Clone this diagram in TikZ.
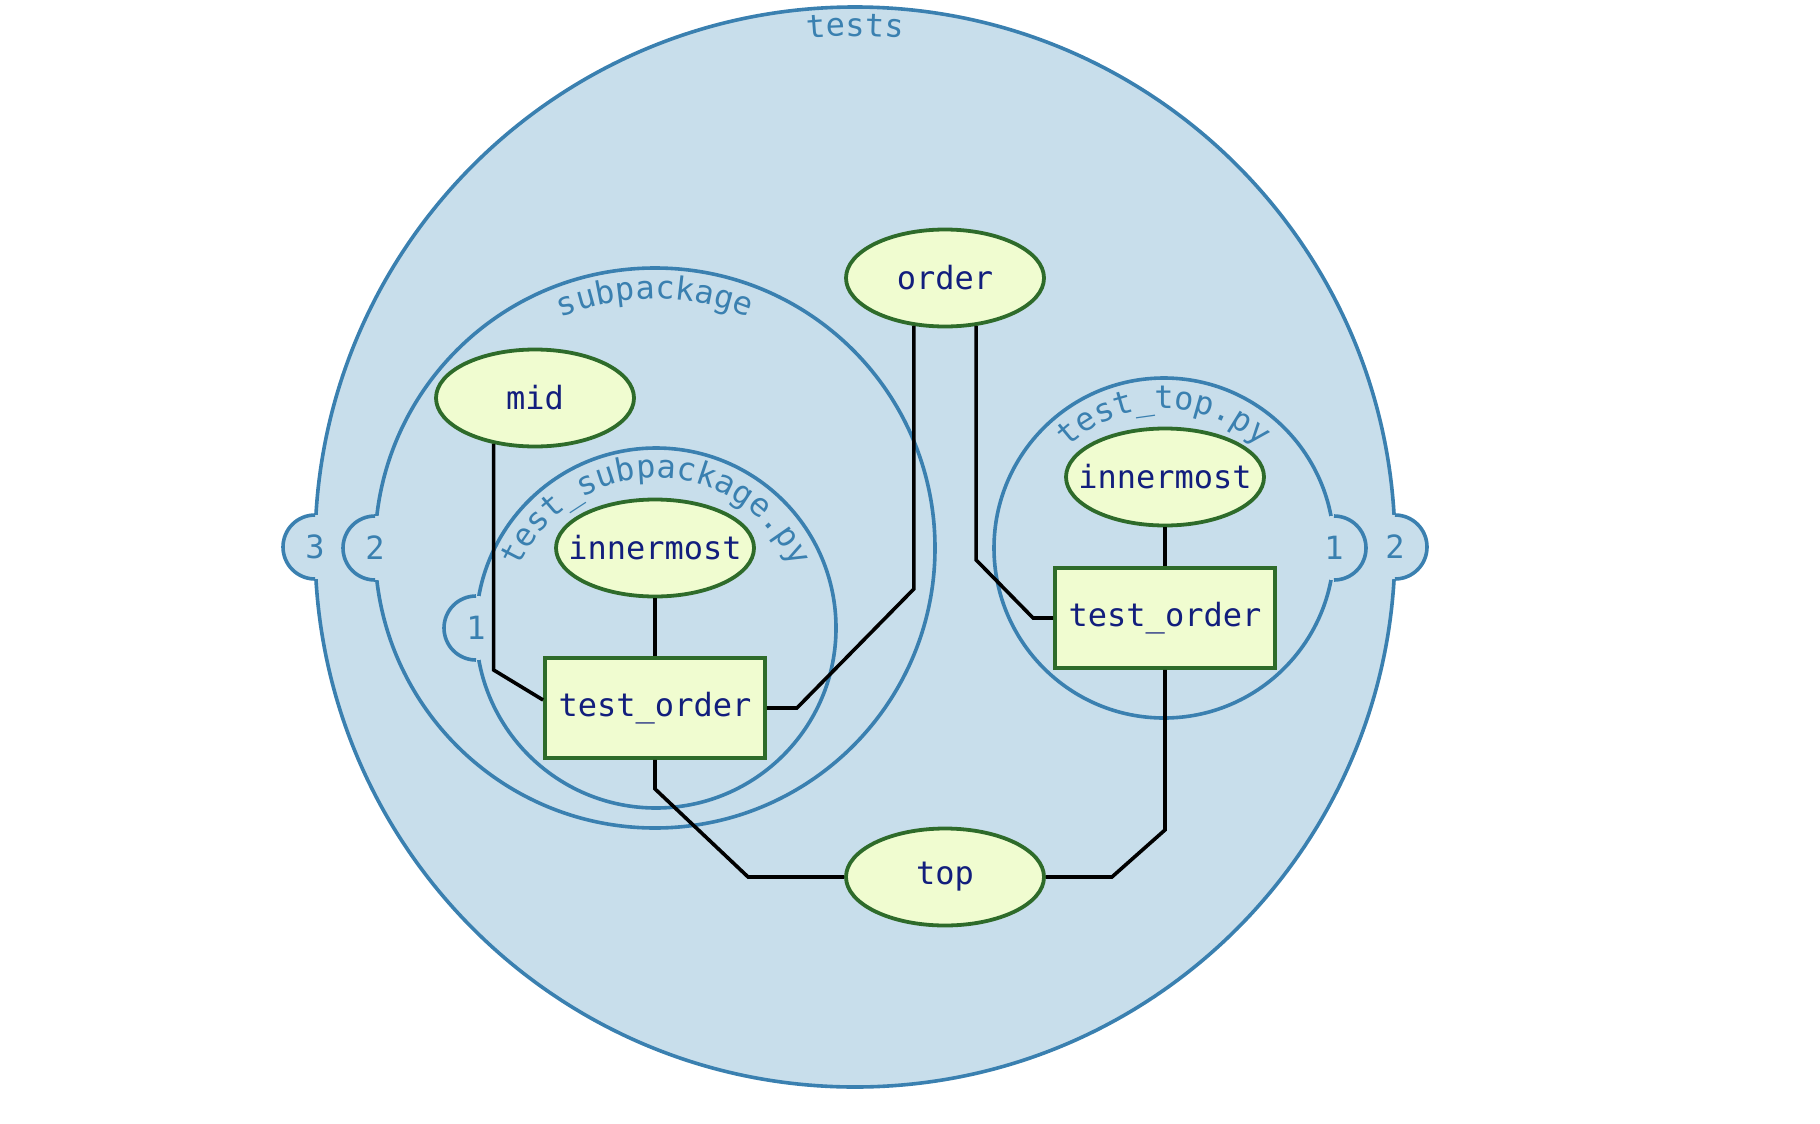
\documentclass[tikz,border=0pt]{standalone}
\usepackage{fontspec}
\setmonofont{DejaVu Sans Mono}
\usetikzlibrary{shapes.geometric,decorations.text}
\definecolor{grpfill}{RGB}{200,222,235}
\definecolor{grpline}{RGB}{58,128,176}
\definecolor{fixfill}{RGB}{240,252,208}
\definecolor{fixline}{RGB}{46,107,42}
\definecolor{fixtext}{RGB}{18,30,125}
\newcommand\grpfont{\ttfamily\fontsize{16}{19}\selectfont}

\begin{document}
\begin{tikzpicture}
		[x=0.5pt,y=0.5pt,
		grp/.style={fill=grpfill,draw=grpline,line width=1.8pt},
		fix/.style={ellipse,draw=fixline,fill=fixfill,line width=1.9pt,text=fixtext,font=\grpfont,minimum width=99pt,minimum height=48.5pt,inner xsep=-9pt,inner ysep=0pt},
		tst/.style={rectangle,draw=fixline,fill=fixfill,line width=1.9pt,text=fixtext,font=\grpfont,minimum width=110pt,minimum height=50pt},
		wire/.style={line width=1.8pt,black},
		tab/.style={text=grpline,font=\grpfont,inner sep=0pt},
		lbl/.style={decorate,decoration={text along path,text align=center,text color=grpline,text={|\grpfont|#1}}}]
		\useasboundingbox (0,0) rectangle (1820,-1124);
		\draw[grp] (855,-547) circle[radius=540];
		\draw[grp] (655,-548) circle[radius=280];
		\draw[grp] (656,-628) circle[radius=180];
		\draw[grp] (1164,-548) circle[radius=170];
		\foreach \x/\y/\a/\n [count=\i] in {315/547/90/3,1395/547/-90/2,375/548/90/2,476/628/90/1,1334/548/-90/1}{
			\fill[grpfill] (\x,-\y) circle[radius=32];
			\draw[grpline,line width=1.8pt] (\x,-\y) ++(\a:32) arc (\a:\a+180:32);
			\node[tab] (tab\i) at (\x,-\y) {\n};
		}
		\path[lbl=tests] (855,-547) ++(120:511) arc (120:60:511);
		\path[lbl=subpackage] (655,-548) ++(150:249) arc (150:30:249);
		\path[lbl={test{\_}subpackage.py}] (656,-628) ++(170:150) arc (170:10:150);
		\path[lbl={test{\_}top.py}] (1164,-548) ++(165:139) arc (165:15:139);
		\node[fix] (mid) at (535,-398) {mid};
		\node[fix] (linner) at (655,-548) {innermost};
		\node[tst] (lsub) at (655,-708) {test\_order};
		\node[fix] (order) at (945,-278) {order};
		\node[fix] (rinner) at (1165,-477) {innermost};
		\node[tst] (rtop) at (1165,-618) {test\_order};
		\node[fix] (top) at (945,-877) {top};
		\draw[wire] (mid.228) -- ++(0,-226) -- ([yshift=4pt]lsub.west);
		\draw[wire] (order.237) -- ++(0,-263) -- ([xshift=15pt]lsub.east) -- (lsub.east);
		\draw[wire] (order.303) -- ++(0,-234) -- ([xshift=-10pt]rtop.west) -- (rtop.west);
		\draw[wire] (linner.south) -- (lsub.north);
		\draw[wire] (rinner.south) -- (rtop.north);
		\draw[wire] (lsub.south) -- ++(0,-29) -- ([xshift=-48pt]top.west) -- (top.west);
		\draw[wire] (top.east) -- ([xshift=33pt]top.east) -- ([yshift=-80pt]rtop.south) -- (rtop.south);
	\end{tikzpicture}
\end{document}
